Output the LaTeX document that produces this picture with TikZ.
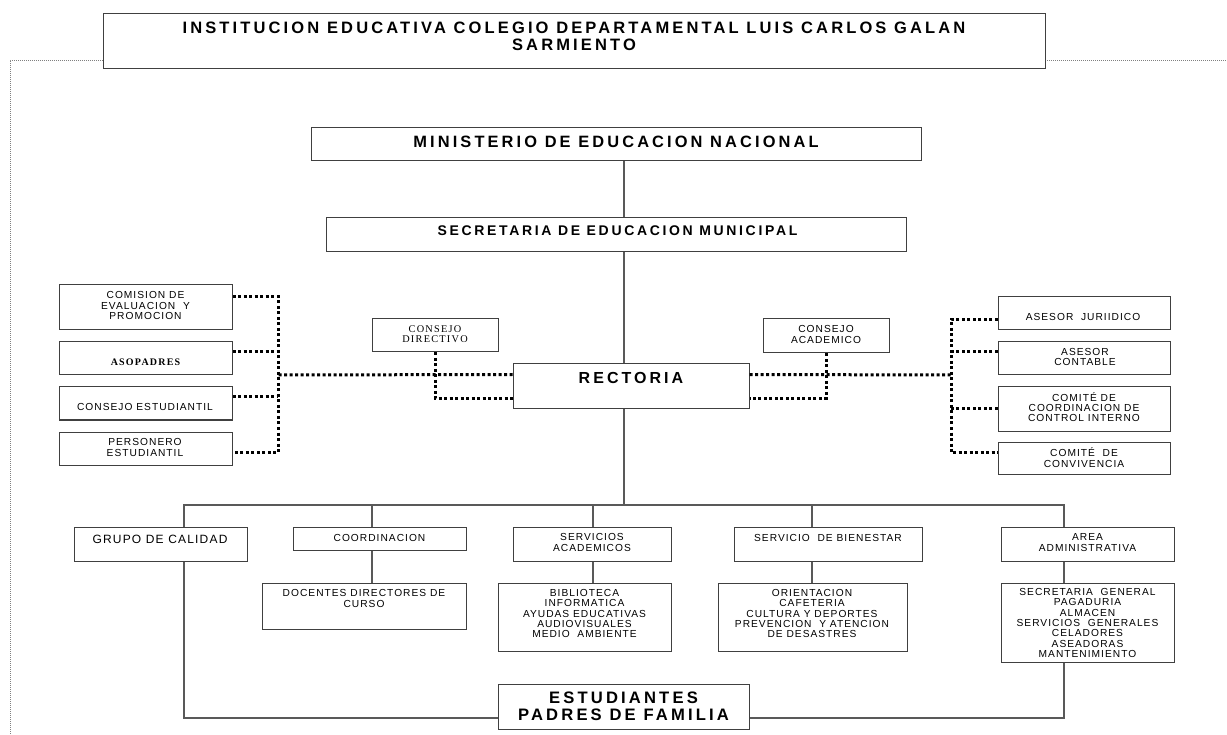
\documentclass[tikz,border=0pt]{standalone}
\usepackage{fontspec}
\setmainfont[LetterSpace=10]{Liberation Sans}
\newfontfamily\headfont[LetterSpace=19]{Liberation Sans}
\newfontfamily\romfont[LetterSpace=12]{Liberation Serif}
\usetikzlibrary{positioning,fit,backgrounds}

\begin{document}
\begin{tikzpicture}[x=1pt,y=-1pt,
  box/.style={draw=black!75,line width=1pt,inner sep=0pt},
  txt/.style={align=center,inner sep=0pt,font=\fontsize{10.2}{10.3}\selectfont},
  head/.style={align=center,inner sep=0pt,font=\headfont\bfseries\fontsize{16.5}{17}\selectfont},
  rom/.style={align=center,inner sep=0pt,font=\romfont\fontsize{10.3}{10.5}\selectfont},
  link/.style={draw=black!65,line width=1.2pt},
  dotlink/.style={line width=3pt,dash pattern=on 3pt off 2.5pt}]
\useasboundingbox (0,0) rectangle (1227,735);
\draw[black!50,line width=0.6pt,dash pattern=on 1pt off 1pt] (103,60) -- (10,60) -- (10,735);
\draw[black!50,line width=0.6pt,dash pattern=on 1pt off 1pt] (1045,60) -- (1227,60);

% top of the chart
\node[box,fit={(103,14) (1045,69)}] (title) {};
\node[head] (titleT) at (574,36) {INSTITUCION EDUCATIVA COLEGIO DEPARTAMENTAL LUIS CARLOS GALAN\\SARMIENTO};
\node[box,fit={(311,128) (921,161)}] (min) {};
\node[head,font=\headfont\bfseries\fontsize{16.4}{17}\selectfont] (minT) at (616,142) {MINISTERIO DE EDUCACION NACIONAL};
\node[box,fit={(326,218) (906,252)}] (sec) {};
\node[head,font=\headfont\bfseries\fontsize{14}{16}\selectfont] (secT) at (617.5,230.5) {SECRETARIA DE EDUCACION MUNICIPAL};
\node[box,fit={(513,364) (749,409)}] (rect) {};
\node[head,font=\headfont\bfseries\fontsize{16}{18}\selectfont] (rectT) at (631,378) {RECTORIA};
\node[box,fit={(372,319) (498,352)}] (cdir) {};
\node[rom] (cdirT) at (435,334) {CONSEJO\\DIRECTIVO};
\node[box,fit={(763,319) (889,353)}] (cacad) {};
\node[txt] (cacadT) at (826,334.5) {CONSEJO\\ACADEMICO};

% left column
\node[box,fit={(59,285) (232,330)}] (comi) {};
\node[txt] (comiT) at (145.5,305.5) {COMISION DE\\EVALUACION\ \ Y\\PROMOCION};
\node[box,fit={(59,342) (232,375)}] (aso) {};
\node[rom,font=\romfont\bfseries\fontsize{10}{10.5}\selectfont] (asoT) at (145.5,362) {ASOPADRES};
\node[box,fit={(59,387) (232,420)}] (cest) {};
\node[txt] (cestT) at (145,407) {CONSEJO ESTUDIANTIL};
\node[box,fit={(59,432) (232,465)}] (pers) {};
\node[txt] (persT) at (145,447.5) {PERSONERO\\ESTUDIANTIL};

% right column
\node[box,fit={(998,297) (1170,330)}] (jur) {};
\node[txt] (jurT) at (1083,317) {ASESOR\ \ JURIIDICO};
\node[box,fit={(998,342) (1170,375)}] (cont) {};
\node[txt] (contT) at (1085,357) {ASESOR\\CONTABLE};
\node[box,fit={(998,387) (1170,431)}] (cci) {};
\node[txt] (cciT) at (1084,407) {COMITÉ DE\\COORDINACION DE\\CONTROL INTERNO};
\node[box,fit={(998,442) (1170,474)}] (conv) {};
\node[txt] (convT) at (1084,457.5) {COMITÉ\ \ DE\\CONVIVENCIA};

% lower row
\node[box,fit={(74,527) (247,561)}] (grupo) {};
\node[txt,font=\fontsize{12}{13}\selectfont] (grupoT) at (160,539) {GRUPO DE CALIDAD};
\node[box,fit={(293,527) (466,550)}] (coord) {};
\node[txt] (coordT) at (379.5,538) {COORDINACION};
\node[box,fit={(262,583) (466,629)}] (doc) {};
\node[txt] (docT) at (364,598.5) {DOCENTES DIRECTORES DE\\CURSO};
\node[box,fit={(513,527) (671,561)}] (serv) {};
\node[txt] (servT) at (592,542.5) {SERVICIOS\\ACADEMICOS};
\node[box,fit={(498,583) (671,651)}] (bibl) {};
\node[txt] (biblT) at (584.5,613.5) {BIBLIOTECA\\INFORMATICA\\AYUDAS EDUCATIVAS\\AUDIOVISUALES\\MEDIO\ \ AMBIENTE};
\node[box,fit={(734,527) (922,561)}] (bien) {};
\node[txt] (bienT) at (828,538) {SERVICIO\ \ DE BIENESTAR};
\node[box,fit={(718,583) (907,651)}] (ori) {};
\node[txt] (oriT) at (812,613.5) {ORIENTACION\\CAFETERIA\\CULTURA Y DEPORTES\\PREVENCION\ \ Y ATENCION\\DE DESASTRES};
\node[box,fit={(1001,527) (1174,561)}] (area) {};
\node[txt] (areaT) at (1087.5,542.5) {AREA\\ADMINISTRATIVA};
\node[box,fit={(1001,583) (1174,662)}] (secg) {};
\node[txt] (secgT) at (1087.5,623) {SECRETARIA\ \ GENERAL\\PAGADURIA\\ALMACEN\\SERVICIOS\ \ GENERALES\\CELADORES\\ASEADORAS\\MANTENIMIENTO};
\node[box,fit={(498,684) (749,729)}] (est) {};
\node[head,font=\headfont\bfseries\fontsize{16.6}{17}\selectfont] (estT) at (623.5,706.5) {ESTUDIANTES\\PADRES DE FAMILIA};

% solid lines
\coordinate (spine) at (624,0);
\coordinate (busL) at (184,505);
\coordinate (busR) at (1064,505);
\coordinate (dC) at (372,505);
\coordinate (dS) at (593,505);
\coordinate (dB) at (812,505);
\coordinate (botL) at (184,718);
\coordinate (botR) at (1064,718);
\draw[link] (min.south -| spine) -- (sec.north -| spine);
\draw[link] (sec.south -| spine) -- (rect.north -| spine);
\draw[link] (rect.south -| spine) -- (spine |- busL);
\draw[link] (grupo.north -| busL) -- (busL) -- (busR) -- (area.north -| busR);
\foreach \d/\n in {dC/coord,dS/serv,dB/bien}
  \draw[link] (\d) -- (\d |- \n.north);
\draw[link] (coord.south -| dC) -- (doc.north -| dC);
\draw[link] (serv.south -| dS) -- (bibl.north -| dS);
\draw[link] (bien.south -| dB) -- (ori.north -| dB);
\draw[link] (area.south -| busR) -- (secg.north -| busR);
\draw[link] (grupo.south -| botL) -- (botL) -- (botL -| est.west);
\draw[link] (secg.south -| botR) -- (botR) -- (botR -| est.east);

% dotted lines
\coordinate (lbus) at (278,375);
\coordinate (rbus) at (951,375);
\draw[dotlink] ([yshift=-12pt]comi.north east) -| ([yshift=13pt]pers.south east -| lbus) -- ([yshift=13pt]pers.south east);
\draw[dotlink] ([yshift=-10pt]aso.north east) -- ([yshift=-10pt]aso.north east -| lbus);
\draw[dotlink] ([yshift=-10pt]cest.north east) -- ([yshift=-10pt]cest.north east -| lbus);
\draw[dotlink] ([yshift=-11pt]rect.north west) -- (lbus);
\draw[dotlink] (cdir.south) |- ([yshift=11pt]rect.south west);
\draw[dotlink] ([yshift=-11pt]rect.north east) -- (rbus);
\draw[dotlink] (cacad.south) |- ([yshift=11pt]rect.south east);
\draw[dotlink] ([yshift=11pt]jur.south west) -| ([yshift=-11pt]conv.north west -| rbus) -- ([yshift=-11pt]conv.north west);
\draw[dotlink] ([yshift=-10pt]cont.north west) -- ([yshift=-10pt]cont.north west -| rbus);
\draw[dotlink] (cci.west) -- (cci.west -| rbus);
\end{tikzpicture}
\end{document}
